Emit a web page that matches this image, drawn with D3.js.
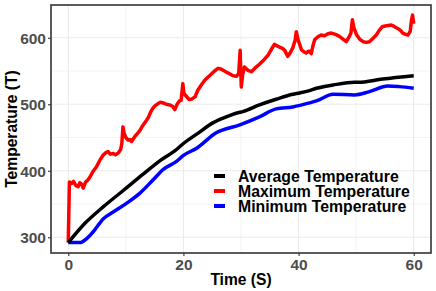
<!DOCTYPE html>
<html>
<head>
<meta charset="utf-8">
<script src="https://cdn.jsdelivr.net/npm/d3@7"></script>
<style>
  body { margin: 0; background: #fff; }
  text { font-family: "Liberation Sans", Arial, sans-serif; font-weight: bold; }
</style>
</head>
<body>
<script>
// series: [time (S), temperature (T)]
const avgSeries = [
  [0, 292], [2.9, 321], [6.1, 346], [9.5, 370], [13, 395], [15.9, 415], [18.8, 432],
  [20, 441], [22.3, 455], [25.1, 472], [28, 483], [29.8, 488], [30.3, 489], [33.2, 499],
  [36.1, 507.5], [39, 515], [40.2, 517], [41.9, 520.5], [43.1, 524], [46, 529],
  [49.7, 533], [50.3, 533], [54.6, 538], [60, 543]
];
const minSeries = [
  [0, 292], [2, 292], [3.2, 298], [4.3, 308], [6.1, 328], [7.8, 338], [10.1, 351],
  [12.4, 366], [14.7, 386], [16.5, 402], [18.8, 414], [20, 423], [22.3, 434],
  [25.7, 457], [29.8, 469], [33.2, 481], [36.1, 493], [39, 496], [41.9, 502],
  [43.1, 505], [46, 515], [49.7, 514], [52.3, 519], [55.5, 527.5], [57.5, 526.5], [60, 524]
];
const maxSeries = [
  [0, 292], [0.1, 340], [0.2, 383], [0.6, 381], [0.9, 384], [1.3, 378], [1.7, 376], [2.0, 382],
  [2.3, 380], [2.6, 374], [3.0, 383], [3.4, 386], [3.8, 391], [4.3, 399], [4.9, 406], [5.5, 416],
  [6.1, 424], [6.5, 427], [6.9, 429], [7.3, 425], [7.8, 426], [8.2, 424], [8.7, 427], [9.1, 432],
  [9.3, 441], [9.5, 466], [9.7, 456], [10.0, 450], [10.4, 446], [10.7, 447], [11.0, 444],
  [11.6, 452], [12.0, 456], [12.4, 460], [12.8, 466], [13.2, 471], [13.6, 476], [13.9, 480],
  [14.3, 488], [14.7, 494], [15.1, 498], [15.6, 501], [16.0, 503], [16.5, 502], [17.0, 500],
  [17.6, 499], [18.1, 497], [18.5, 492], [18.9, 500], [19.3, 505], [19.6, 506], [19.9, 531],
  [20.1, 516], [20.5, 512], [21.0, 507], [21.5, 508], [22.0, 511], [22.5, 521], [23.1, 529],
  [23.7, 536], [24.3, 541], [24.9, 546], [25.4, 550], [26.0, 554], [26.5, 553], [26.9, 551],
  [27.5, 548], [28.0, 546], [28.6, 543], [29.2, 542], [29.6, 546], [29.85, 581], [30.05, 526],
  [30.3, 545], [30.6, 556], [31.2, 551], [31.8, 549], [32.5, 555], [33.2, 560], [34.0, 567],
  [34.7, 574], [35.3, 583], [35.8, 590], [36.2, 588], [36.7, 586], [37.2, 584], [37.6, 581],
  [38.1, 572], [38.6, 578], [39.0, 585], [39.4, 596], [39.6, 609], [39.9, 597], [40.2, 590],
  [40.5, 582], [40.9, 579], [41.3, 577], [41.8, 580], [42.2, 576], [42.5, 588], [42.8, 597],
  [43.3, 601], [43.9, 604], [44.5, 603], [45.1, 606], [45.7, 607], [46.4, 605], [47.1, 602],
  [47.7, 598], [48.3, 594], [48.7, 600], [49.1, 607], [49.35, 627], [49.6, 615], [50.1, 604],
  [50.6, 598], [51.2, 594], [51.8, 593], [52.3, 594], [52.9, 599], [53.5, 604], [54.0, 611],
  [54.6, 617], [55.3, 618], [56.1, 619], [56.6, 617], [57.2, 614], [57.7, 611], [58.1, 607],
  [58.6, 605], [59.0, 604], [59.4, 610], [59.6, 626], [59.8, 634], [60.0, 621]
];

const xTicks = [0, 20, 40, 60];
const xMinor = [10, 30, 50];
const yTicks = [300, 400, 500, 600];
const yMinor = [350, 450, 550];
const legendLabels = ['Average Temperature', 'Maximum Temperature', 'Minimum Temperature'];
const legendColors = ['#000000', '#ff0000', '#0000ff'];

const width = 436, height = 291;
const panel = { left: 51, right: 431, top: 5, bottom: 253 };

const svg = d3.select('body')
  .append('svg')
  .attr('width', width)
  .attr('height', height);

const x = d3.scaleLinear().domain([-3, 63]).range([panel.left, panel.right]);
const y = d3.scaleLinear().domain([276.4, 649.2]).range([panel.bottom, panel.top]);

// grid
const grid = svg.append('g');
grid.selectAll('.vminor').data(xMinor).join('line')
  .attr('x1', d => x(d)).attr('x2', d => x(d))
  .attr('y1', panel.top).attr('y2', panel.bottom)
  .attr('stroke', '#ebebeb').attr('stroke-width', 0.6);
grid.selectAll('.hminor').data(yMinor).join('line')
  .attr('y1', d => y(d)).attr('y2', d => y(d))
  .attr('x1', panel.left).attr('x2', panel.right)
  .attr('stroke', '#ebebeb').attr('stroke-width', 0.6);
grid.selectAll('.vmajor').data(xTicks).join('line')
  .attr('x1', d => x(d)).attr('x2', d => x(d))
  .attr('y1', panel.top).attr('y2', panel.bottom)
  .attr('stroke', '#ebebeb').attr('stroke-width', 1.1);
grid.selectAll('.hmajor').data(yTicks).join('line')
  .attr('y1', d => y(d)).attr('y2', d => y(d))
  .attr('x1', panel.left).attr('x2', panel.right)
  .attr('stroke', '#ebebeb').attr('stroke-width', 1.1);

// lines
const line = d3.line().x(d => x(d[0])).y(d => y(d[1]));
const smooth = d3.line().x(d => x(d[0])).y(d => y(d[1])).curve(d3.curveMonotoneX);

svg.append('path').datum(maxSeries)
  .attr('d', line).attr('fill', 'none')
  .attr('stroke', legendColors[1]).attr('stroke-width', 3.5)
  .attr('stroke-linejoin', 'round');
svg.append('path').datum(minSeries)
  .attr('d', smooth).attr('fill', 'none')
  .attr('stroke', legendColors[2]).attr('stroke-width', 3.5);
svg.append('path').datum(avgSeries)
  .attr('d', smooth).attr('fill', 'none')
  .attr('stroke', legendColors[0]).attr('stroke-width', 3.5);

// panel border
svg.append('rect')
  .attr('x', panel.left).attr('y', panel.top)
  .attr('width', panel.right - panel.left).attr('height', panel.bottom - panel.top)
  .attr('fill', 'none').attr('stroke', '#333333').attr('stroke-width', 1.6);

// axes
const xAxis = svg.append('g')
  .attr('transform', `translate(0,${panel.bottom})`)
  .call(d3.axisBottom(x).tickValues(xTicks).tickSize(3).tickPadding(3));
const yAxis = svg.append('g')
  .attr('transform', `translate(${panel.left},0)`)
  .call(d3.axisLeft(y).tickValues(yTicks).tickSize(3).tickPadding(2));
[xAxis, yAxis].forEach(a => {
  a.select('.domain').remove();
  a.selectAll('line').attr('stroke', '#333333').attr('stroke-width', 1.1);
  a.selectAll('text')
    .attr('fill', '#4d4d4d')
    .style('font-size', '15.5px')
    .style('font-family', '"Liberation Sans", Arial, sans-serif')
    .style('font-weight', 'bold');
});
yAxis.selectAll('text').attr('dy', '0.36em');

// axis titles
svg.append('text')
  .attr('x', (panel.left + panel.right) / 2).attr('y', 285)
  .attr('text-anchor', 'middle')
  .style('font-size', '15.6px')
  .text('Time (S)');
svg.append('text')
  .attr('transform', `translate(16.5,${(panel.top + panel.bottom) / 2}) rotate(-90)`)
  .attr('text-anchor', 'middle')
  .style('font-size', '15.6px')
  .text('Temperature (T)');

// legend
const legend = svg.append('g').attr('transform', 'translate(214,176)');
const rows = legend.selectAll('g').data(legendLabels).join('g')
  .attr('transform', (d, i) => `translate(0,${i * 15})`);
rows.append('line')
  .attr('x1', 0).attr('x2', 11)
  .attr('stroke', (d, i) => legendColors[i]).attr('stroke-width', 4);
rows.append('text')
  .attr('x', 24).attr('y', 5.6)
  .style('font-size', '15.8px')
  .text(d => d);
</script>
</body>
</html>
